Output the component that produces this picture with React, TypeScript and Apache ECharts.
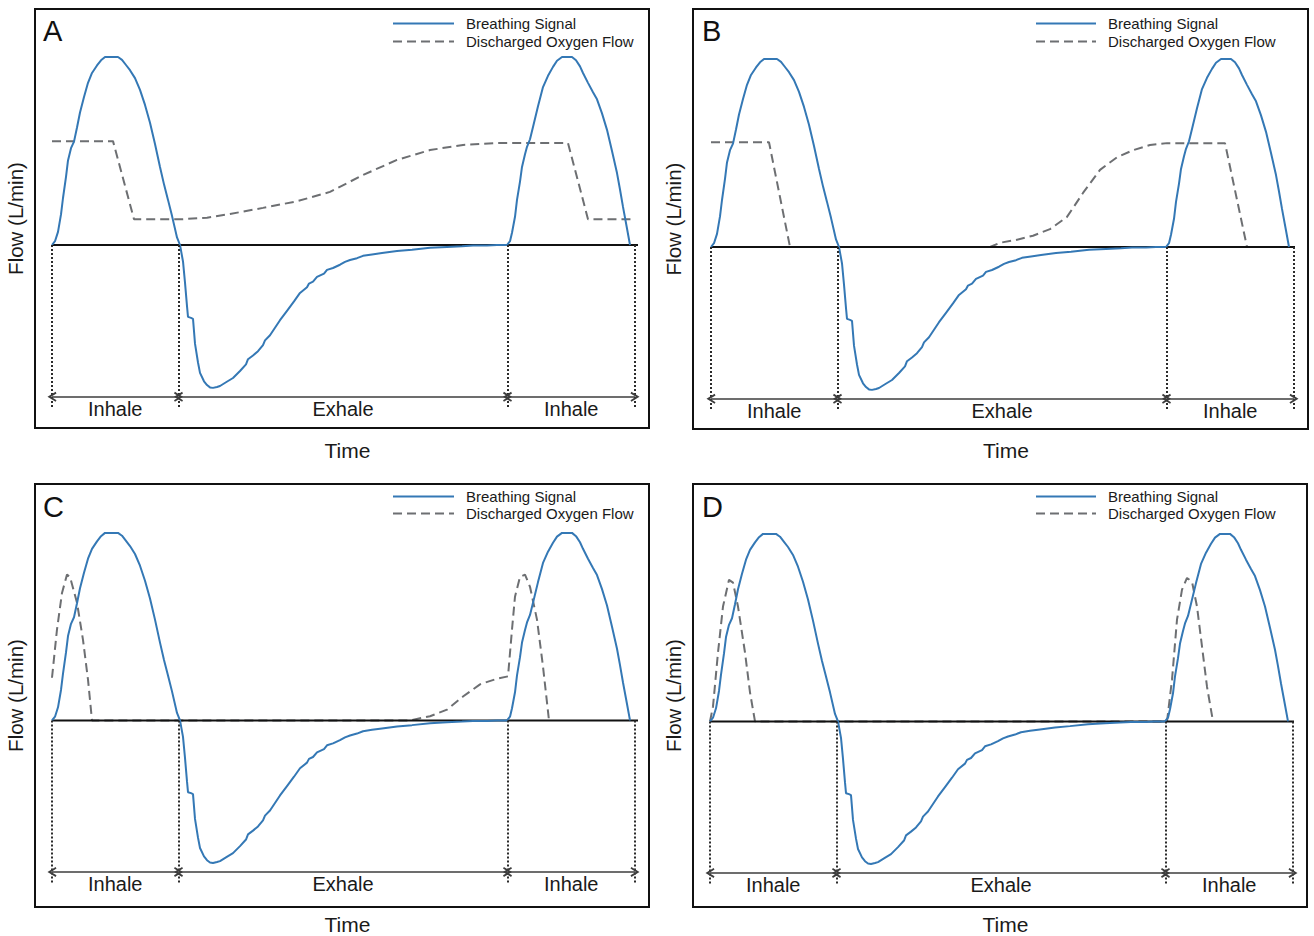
import React, { useEffect, useRef } from "react";
import * as echarts from "echarts";

// ---------- data ----------
const SERIES_NAMES = ["Breathing Signal", "Discharged Oxygen Flow"];
const PANEL_LETTERS = ["A", "B", "C", "D"];
const PHASE_LABELS = ["Inhale", "Exhale", "Inhale"];
const PHASE_BOUNDS = [0, 1.265, 4.555, 5.83];
const X_AXIS_NAME = "Time";
const Y_AXIS_NAME = "Flow (L/min)";

// time (s), flow (L/min)
const breathingSignal: [number, number][] = [
  [0, 0], [0.03, 0.8], [0.06, 2.8], [0.09, 6.5], [0.11, 10], [0.14, 14.5], [0.16, 18], [0.19, 20.6],
  [0.22, 22], [0.25, 25], [0.28, 28.2], [0.32, 31.5], [0.36, 34.5], [0.4, 36.6], [0.45, 38.2],
  [0.49, 39.3], [0.53, 40], [0.6, 40], [0.66, 40], [0.7, 39.4], [0.74, 38.3], [0.78, 37.2],
  [0.83, 35.5], [0.88, 33], [0.93, 29.8], [0.98, 26], [1.03, 21.5], [1.08, 16.6], [1.12, 12.9],
  [1.16, 9.6], [1.2, 6.2], [1.25, 1.6], [1.28, 0],
  [1.31, -3.5], [1.33, -8], [1.35, -13], [1.36, -15.3], [1.39, -15.5], [1.41, -15.7], [1.43, -21],
  [1.46, -25], [1.48, -27.2], [1.52, -29], [1.55, -29.8], [1.58, -30.3], [1.61, -30.4], [1.65, -30.2],
  [1.68, -30], [1.74, -29.2], [1.81, -28.3], [1.88, -26.8], [1.94, -25.4], [1.96, -24.3], [2.01, -23.5],
  [2.06, -22.6], [2.11, -21.3], [2.13, -20.3], [2.18, -19.2], [2.23, -17.6], [2.28, -16], [2.35, -14],
  [2.42, -12], [2.48, -10.2], [2.55, -9], [2.57, -8.2], [2.61, -7.8], [2.65, -6.8], [2.72, -6.1],
  [2.75, -5.3], [2.81, -4.9], [2.88, -4.2], [2.93, -3.6], [2.98, -3.2], [3.05, -2.8], [3.11, -2.3],
  [3.2, -2.0], [3.3, -1.7], [3.45, -1.3], [3.6, -1.0], [3.78, -0.6], [3.95, -0.4], [4.1, -0.25],
  [4.21, -0.1], [4.35, -0.1], [4.45, 0],
  [4.55, 0], [4.58, 0.8], [4.6, 2.6], [4.63, 6], [4.65, 9.6], [4.68, 13.5], [4.7, 16.6], [4.73, 19.3],
  [4.75, 20.9], [4.78, 22.5], [4.81, 25.1], [4.86, 29.5], [4.91, 33.6], [4.96, 36], [5.01, 37.9],
  [5.05, 39.2], [5.1, 40], [5.15, 40], [5.2, 40], [5.24, 39.3], [5.28, 38], [5.31, 36.6], [5.36, 34.5],
  [5.41, 32.5], [5.45, 31], [5.5, 28], [5.55, 24.5], [5.6, 20], [5.65, 15.3], [5.68, 11.8],
  [5.71, 8.1], [5.75, 3.5], [5.78, 0],
];

const oxygenFlowA: [number, number][] = [
  [0, 22.1], [0.61, 22.1], [0.82, 5.5], [1.31, 5.5], [1.55, 5.8], [1.78, 6.6], [2.11, 7.9],
  [2.45, 9.3], [2.78, 11.3], [3.11, 14.9], [3.45, 18.1], [3.78, 20.2], [4.11, 21.3], [4.45, 21.7],
  [5.16, 21.7], [5.36, 5.5], [5.81, 5.5],
];

const oxygenFlowB: [number, number][] = [
  [0, 22.3], [0.58, 22.3], [0.79, 0], [2.79, 0], [2.89, 0.9], [3.05, 1.5], [3.22, 2.4], [3.39, 3.8],
  [3.56, 6.4], [3.72, 11.5], [3.89, 16.4], [4.06, 19.1], [4.22, 20.6], [4.39, 21.7], [4.56, 22.1],
  [5.14, 22.1], [5.36, 0],
];

const oxygenFlowC: [number, number][] = [
  [0, 9.1], [0.05, 19.4], [0.1, 27.2], [0.15, 31.1], [0.18, 30.6], [0.25, 25.1], [0.31, 17.2],
  [0.36, 8.7], [0.4, 0], [3.58, 0], [3.78, 0.9], [3.95, 2.3], [4.11, 5.1], [4.28, 7.7], [4.45, 8.9],
  [4.56, 9.4], [4.6, 19.4], [4.63, 26.4], [4.68, 30.6], [4.73, 31.1], [4.78, 28.5], [4.85, 21.5],
  [4.91, 11.5], [4.97, 0],
];

const oxygenFlowD: [number, number][] = [
  [0, 0], [0.03, 3.2], [0.08, 14.7], [0.13, 24.5], [0.19, 30.2], [0.23, 29.6], [0.28, 24.5],
  [0.35, 14.7], [0.4, 6.2], [0.45, 0], [4.57, 0], [4.62, 8.9], [4.67, 21.7], [4.72, 28.1],
  [4.77, 30.6], [4.82, 29.8], [4.87, 24.5], [4.92, 16], [4.97, 7.4], [5.03, 0],
];

const oxygenSeries = [oxygenFlowA, oxygenFlowB, oxygenFlowC, oxygenFlowD];

// ---------- layout & style ----------
const PX_PER_S = 100;
const PX_PER_LPM = 4.7;
const ARROW_LEVEL = -32.3;
const DOT_BOTTOM = -34.6;
const FONT = "'Liberation Sans', Arial, Helvetica, sans-serif";
const BLUE = "#3478b5";
const GREY = "#6d6f72";
const ARROW = "path://M5,0 L10,9 L8.4,10 L5,4 L1.6,10 L0,9 Z";

const LAYOUT = [
  { left: 35, top: 9, right: 649, bottom: 428, originX: 52, zeroY: 245, zeroEnd: 5.86, timeGap: 12, legendLeft: 392, legendTop: 16, legendWidth: 61, legendGap: 3, letterX: 43, letterY: 31 },
  { left: 693, top: 9, right: 1308, bottom: 429, originX: 711, zeroY: 247, zeroEnd: 5.84, timeGap: 11, legendLeft: 1035, legendTop: 16, legendWidth: 60, legendGap: 3, letterX: 702, letterY: 31 },
  { left: 35, top: 484, right: 649, bottom: 908, originX: 52, zeroY: 721, zeroEnd: 5.86, timeGap: 7, legendLeft: 392, legendTop: 489, legendWidth: 61, legendGap: 2, letterX: 43, letterY: 507 },
  { left: 693, top: 484, right: 1307, bottom: 908, originX: 710, zeroY: 722, zeroEnd: 5.84, timeGap: 7, legendLeft: 1035, legendTop: 489, legendWidth: 60, legendGap: 2, letterX: 702, letterY: 507 },
];

function buildOption() {
  const grid = LAYOUT.map((p) => ({
    left: p.left,
    top: p.top,
    width: p.right - p.left,
    height: p.bottom - p.top,
    show: true,
    borderColor: "#111",
    borderWidth: 2,
    backgroundColor: "rgba(0,0,0,0)",
  }));

  const hidden = {
    axisLine: { show: false, onZero: false },
    axisTick: { show: false },
    axisLabel: { show: false },
    splitLine: { show: false },
  };

  const xAxis = LAYOUT.map((p, i) => ({
    type: "value",
    gridIndex: i,
    min: (p.left - p.originX) / PX_PER_S,
    max: (p.right - p.originX) / PX_PER_S,
    ...hidden,
    name: X_AXIS_NAME,
    nameLocation: "middle",
    nameGap: p.timeGap,
    nameTextStyle: { fontSize: 21, color: "#1a1a1a", fontFamily: FONT, padding: [0, 0, 0, 11] },
  }));

  const yAxis = LAYOUT.map((p, i) => ({
    type: "value",
    gridIndex: i,
    min: -(p.bottom - p.zeroY) / PX_PER_LPM,
    max: (p.zeroY - p.top) / PX_PER_LPM,
    ...hidden,
    name: Y_AXIS_NAME,
    nameLocation: "middle",
    nameRotate: 90,
    nameGap: 9,
    nameTextStyle: { fontSize: 20.5, color: "#1a1a1a", fontFamily: FONT },
  }));

  const series: any[] = [];
  LAYOUT.forEach((p, i) => {
    series.push({
      type: "line",
      name: SERIES_NAMES[1],
      xAxisIndex: i,
      yAxisIndex: i,
      data: oxygenSeries[i],
      symbol: "none",
      showSymbol: false,
      silent: true,
      z: 2,
      lineStyle: { color: GREY, width: 2, type: [9, 5] },
      itemStyle: { color: GREY },
      markLine: {
        silent: true,
        symbol: ["none", "none"],
        lineStyle: { color: "#2b2b2b", width: 2, type: [2, 2] },
        label: { show: false },
        data: PHASE_BOUNDS.map((b) => [{ coord: [b, 0] }, { coord: [b, DOT_BOTTOM] }]),
      },
    });
    series.push({
      type: "line",
      name: "baseline",
      xAxisIndex: i,
      yAxisIndex: i,
      data: [[0, 0], [p.zeroEnd, 0]],
      symbol: "none",
      showSymbol: false,
      silent: true,
      z: 3,
      lineStyle: { color: "#111", width: 2 },
      itemStyle: { color: "#111" },
      markLine: {
        silent: true,
        symbol: [ARROW, ARROW],
        symbolSize: [10, 9],
        lineStyle: { color: "#3d3d3d", width: 1.5, type: "solid" },
        label: {
          show: true,
          position: "insideMiddleBottom",
          formatter: "{b}",
          fontSize: 20,
          color: "#1a1a1a",
          fontFamily: FONT,
          distance: 2,
        },
        data: PHASE_LABELS.map((name, k) => [
          { name, coord: [PHASE_BOUNDS[k], ARROW_LEVEL] },
          { coord: [PHASE_BOUNDS[k + 1], ARROW_LEVEL] },
        ]),
      },
    });
    series.push({
      type: "line",
      name: SERIES_NAMES[0],
      xAxisIndex: i,
      yAxisIndex: i,
      data: breathingSignal,
      symbol: "none",
      showSymbol: false,
      silent: true,
      z: 4,
      lineStyle: { color: BLUE, width: 2 },
      itemStyle: { color: BLUE },
    });
  });

  const legend = LAYOUT.map((p) => ({
    left: p.legendLeft,
    top: p.legendTop,
    orient: "vertical",
    itemWidth: p.legendWidth,
    itemHeight: 14,
    itemGap: p.legendGap,
    padding: 0,
    selectedMode: false,
    data: SERIES_NAMES,
    itemStyle: { color: "rgba(0,0,0,0)", borderColor: "rgba(0,0,0,0)", borderWidth: 0, opacity: 0 },
    textStyle: { fontSize: 15, color: "#1a1a1a", fontFamily: FONT, padding: [0, 0, 0, 7] },
  }));

  const graphic = LAYOUT.map((p, i) => ({
    type: "text",
    x: p.letterX,
    y: p.letterY,
    silent: true,
    style: {
      text: PANEL_LETTERS[i],
      fontSize: 29,
      fontFamily: FONT,
      fill: "#111",
      align: "left",
      verticalAlign: "middle",
    },
  }));

  return {
    animation: false,
    backgroundColor: "#ffffff",
    grid,
    xAxis,
    yAxis,
    legend,
    graphic,
    series,
  };
}

export default function App() {
  const ref = useRef<HTMLDivElement>(null);
  useEffect(() => {
    if (!ref.current) return;
    const chart = echarts.init(ref.current, undefined, { renderer: "svg" });
    chart.setOption(buildOption() as any);
    return () => chart.dispose();
  }, []);
  return (
    <div
      ref={ref}
      style={{ position: "fixed", left: 0, top: 0, width: 1314, height: 936, background: "#fff" }}
    />
  );
}
